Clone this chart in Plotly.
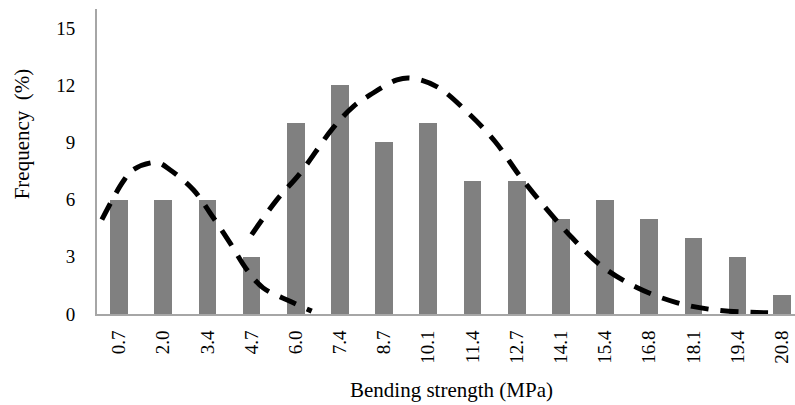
import plotly.graph_objects as go

categories = ["0.7", "2.0", "3.4", "4.7", "6.0", "7.4", "8.7", "10.1",
              "11.4", "12.7", "14.1", "15.4", "16.8", "18.1", "19.4", "20.8"]
frequency = [6, 6, 6, 3, 10, 12, 9, 10, 7, 7, 5, 6, 5, 4, 3, 1]

# fitted curves, x given in category-slot units (0 = first bin)
curve1_x = [-0.39, 0.09, 0.32, 0.85, 1.15, 1.68, 2.06, 2.51, 2.89, 3.26, 3.87, 4.36]
curve1_y = [4.95, 6.95, 7.57, 7.95, 7.57, 6.52, 5.30, 3.73, 2.33, 1.37, 0.67, 0.15]

curve2_x = [3.00, 3.57, 4.10, 4.84, 5.30, 5.68, 6.29, 6.60, 7.19, 7.90, 8.51, 9.08,
            9.65, 10.25, 10.93, 11.72, 12.62, 13.53, 14.69]
curve2_y = [4.16, 5.99, 7.39, 9.75, 10.88, 11.49, 12.28, 12.38, 11.93, 10.55, 9.05, 7.21,
            5.58, 4.01, 2.50, 1.39, 0.60, 0.20, 0.06]

yticks = [0, 3, 6, 9, 12, 15]

positions = list(range(len(categories)))
font_family = "Times New Roman, Liberation Serif, serif"

fig = go.Figure()
fig.add_trace(go.Bar(x=positions, y=frequency, width=0.4,
                     marker=dict(color="#808080", line=dict(width=0)),
                     showlegend=False, hoverinfo="skip"))
for cx, cy in [(curve1_x, curve1_y), (curve2_x, curve2_y)]:
    fig.add_trace(go.Scatter(x=cx, y=cy, mode="lines",
                             line=dict(color="black", width=5, dash="18px,12px",
                                       shape="spline", smoothing=1),
                             showlegend=False, hoverinfo="skip"))

fig.update_layout(
    template="none",
    width=795, height=405,
    margin=dict(l=97, r=0, t=9, b=91, autoexpand=False),
    paper_bgcolor="white", plot_bgcolor="white",
    font=dict(family=font_family, size=19, color="black"),
    bargap=0,
    xaxis=dict(range=[-0.5, 15.3], tickmode="array", tickvals=positions,
               ticktext=categories, tickangle=-90, showgrid=False, zeroline=False,
               showline=True, linecolor="#a6a6a6", linewidth=2, ticks="",
               ticklabelstandoff=7, automargin=False, fixedrange=True),
    yaxis=dict(range=[0, 16], tickmode="array", tickvals=yticks,
               ticktext=[str(v) for v in yticks], showgrid=False, zeroline=False,
               showline=True, linecolor="#a6a6a6", linewidth=2, ticks="",
               ticklabelstandoff=16, automargin=False, fixedrange=True),
    annotations=[
        dict(text="Frequency&nbsp; (%)", xref="paper", yref="paper", x=-0.107, y=0.59,
             xanchor="center", yanchor="middle", textangle=-90, showarrow=False,
             font=dict(family=font_family, size=21, color="black")),
        dict(text="Bending strength (MPa)", xref="paper", yref="paper", x=0.508, y=-0.25,
             xanchor="center", yanchor="middle", showarrow=False,
             font=dict(family=font_family, size=21, color="black")),
    ],
)

fig.write_html("out.html", config={"displayModeBar": False, "staticPlot": True},
               post_script="document.body.style.margin='0px';document.body.style.overflow='hidden';")
